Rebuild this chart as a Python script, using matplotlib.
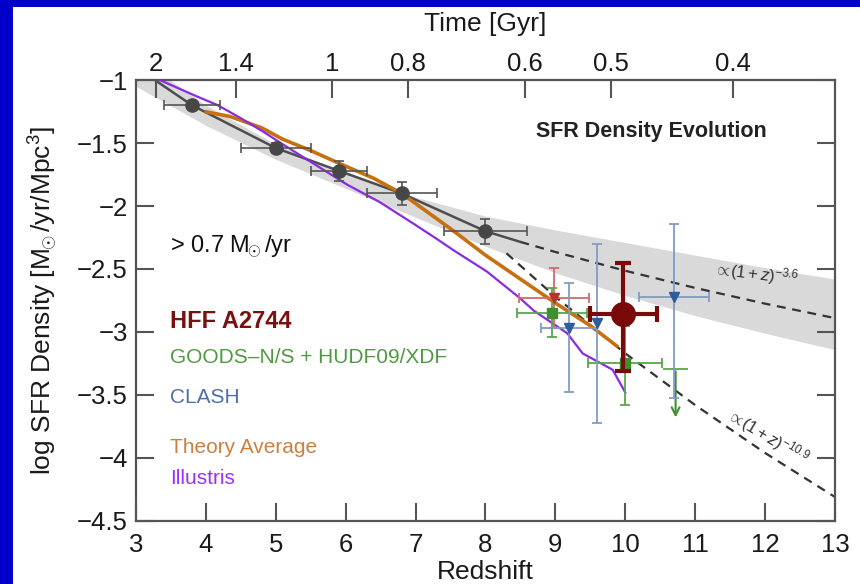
import matplotlib
matplotlib.use("Agg")
import matplotlib.pyplot as plt
from matplotlib.patches import Rectangle
import numpy as np

plt.rcParams['font.family'] = ['Liberation Sans', 'DejaVu Sans']
plt.rcParams['mathtext.fontset'] = 'custom'
plt.rcParams['mathtext.rm'] = 'Liberation Sans'
plt.rcParams['mathtext.it'] = 'Liberation Sans:italic'
plt.rcParams['mathtext.bf'] = 'Liberation Sans:bold'

# ---- data ----
# field data (dark grey circles)
z_pts = [3.8, 5.0, 5.9, 6.8, 8.0]
sfr_pts = [-1.20, -1.54, -1.72, -1.90, -2.20]
zerr_pts = [0.4, 0.5, 0.4, 0.5, 0.6]
sfrerr_pts = [0.03, 0.04, 0.08, 0.09, 0.10]

# solid connecting line (and its end)
z_line = [3.27, 3.8, 5.0, 5.9, 6.8, 8.0, 8.5]
sfr_line = [-1.0, -1.20, -1.54, -1.72, -1.90, -2.20, -2.285]

# grey band (fit uncertainty)
z_band = [3, 4, 5, 6, 7, 8, 9, 10, 11, 12, 13]
band_mid = [-0.93, -1.28, -1.57, -1.80, -2.01, -2.20, -2.36, -2.50, -2.63, -2.75, -2.86]
band_half = [0.12, 0.08, 0.06, 0.06, 0.08, 0.12, 0.17, 0.21, 0.24, 0.26, 0.28]

# dashed power laws
z_slow = [8.5, 9, 10, 11, 12, 13]
sfr_slow = [-2.285, -2.365, -2.514, -2.65, -2.775, -2.89]
z_fast = [8.3, 9, 10, 11, 12, 13]
sfr_fast = [-2.375, -2.72, -3.17, -3.58, -3.96, -4.31]

# Theory average
z_theory = [3.98, 4.35, 4.8, 5.1, 5.5, 5.9, 6.4, 6.8, 7.1, 7.5, 8.0, 8.5, 9.0, 9.5, 9.9]
sfr_theory = [-1.25, -1.29, -1.38, -1.47, -1.56, -1.66, -1.78, -1.90, -2.02,
              -2.18, -2.39, -2.58, -2.77, -2.95, -3.12]

# Illustris
z_ill = [3.34, 3.87, 4.17, 4.49, 4.82, 5.1, 5.53, 6.02, 6.49, 6.97, 7.3, 7.54,
         8.02, 8.49, 8.69, 9.17, 9.39, 9.82, 10.0]
sfr_ill = [-1.0, -1.13, -1.20, -1.30, -1.41, -1.51, -1.66, -1.83, -1.97, -2.14,
           -2.26, -2.35, -2.52, -2.73, -2.83, -3.01, -3.17, -3.30, -3.48]

# CLASH (blue triangles)
z_clash = [9.2, 9.6, 10.7]
sfr_clash = [-2.97, -2.93, -2.72]
zerr_clash = [0.4, 0.0, 0.5]
sfr_clash_lo = [0.51, 0.79, 0.80]
sfr_clash_hi = [0.36, 0.63, 0.58]

# red triangle
z_red = [8.98]
sfr_red = [-2.73]
zerr_red = [0.5]
sfrerr_red = [0.24]

# GOODS-N/S + HUDF09/XDF (green squares)
z_goods = [8.95, 10.0]
sfr_goods = [-2.85, -3.25]
zerr_goods = [0.5, 0.53]
sfr_goods_lo = [0.19, 0.33]
sfr_goods_hi = [0.20, 0.30]
z_goods_lim = 10.72
sfr_goods_lim = -3.29
sfr_goods_arrow = -3.70
zerr_goods_lim = 0.18

# HFF A2744
z_hff = [9.97]
sfr_hff = [-2.86]
zerr_hff = [0.48]
sfr_hff_lo = [0.45]
sfr_hff_hi = [0.41]

time_ticks = [2, 1.4, 1, 0.8, 0.6, 0.5, 0.4]
time_labels = ['2', '1.4', '1', '0.8', '0.6', '0.5', '0.4']

# ---- figure ----
fig = plt.figure(figsize=(8.6, 5.84), dpi=100)
fig.patch.set_facecolor('#0000c8')
fig.patches.append(Rectangle((13 / 860, 0), 847 / 860, 577 / 584, transform=fig.transFigure,
                             facecolor='white', edgecolor='none', zorder=-10))
ax = fig.add_axes([0.1581, 0.1079, 0.8128, 0.7551])

ax.fill_between(z_band, np.array(band_mid) - np.array(band_half),
                np.array(band_mid) + np.array(band_half), color='#d9d9d9', lw=0, zorder=1)
ax.plot(z_slow, sfr_slow, color='#333333', lw=1.6, ls=(0, (4, 3)), zorder=2)
ax.plot(z_fast, sfr_fast, color='#333333', lw=1.6, ls=(0, (4, 3)), zorder=2)
ax.plot(z_line, sfr_line, color='#4d4d4d', lw=1.8, zorder=2)
ax.plot(z_theory, sfr_theory, color='#c8700f', lw=2.6, zorder=3, solid_capstyle='butt')
ax.plot(z_ill, sfr_ill, color='#8a2be2', lw=1.6, zorder=3)

ax.errorbar(z_pts, sfr_pts, xerr=zerr_pts, yerr=sfrerr_pts, fmt='o', color='#474747',
            ms=9.5, elinewidth=1.2, capsize=3.5, capthick=1.2, ecolor='#555555', zorder=4)

ax.errorbar(z_red, sfr_red, xerr=zerr_red, yerr=sfrerr_red, fmt='v', color='#b8342b',
            ms=7, ecolor='#d06a6a', elinewidth=1.3, capsize=3.5, capthick=1.3, zorder=5)
ax.errorbar(z_goods, sfr_goods, xerr=zerr_goods, yerr=[sfr_goods_lo, sfr_goods_hi], fmt='s',
            color='#3f8f2f', ms=7, ecolor='#5aa64a', elinewidth=1.3, capsize=3.5,
            capthick=1.3, zorder=5)
ax.errorbar([z_goods_lim], [sfr_goods_lim], xerr=[[zerr_goods_lim], [zerr_goods_lim]], fmt='none',
            ecolor='#5aa64a', elinewidth=1.3, capsize=0, zorder=5)
ax.annotate('', xy=(z_goods_lim, sfr_goods_arrow), xytext=(z_goods_lim, sfr_goods_lim),
            arrowprops=dict(arrowstyle='->', color='#3f8f2f', lw=1.5, mutation_scale=14), zorder=5)
ax.errorbar(z_clash, sfr_clash, xerr=zerr_clash, yerr=[sfr_clash_lo, sfr_clash_hi], fmt='v',
            color='#2d5d9c', ms=7, ecolor='#7f9cc6', elinewidth=1.3, capsize=3.5,
            capthick=1.3, zorder=5)
ax.errorbar(z_hff, sfr_hff, xerr=zerr_hff, yerr=[sfr_hff_lo, sfr_hff_hi], fmt='o',
            color='#7a0a0a', ms=17, elinewidth=3, capsize=5.5, capthick=3, zorder=6)

# labels inside plot
ax.text(10.38, -1.41, 'SFR Density Evolution', fontsize=15.5, fontweight='bold',
        color='#222222', ha='center', va='center')
ax.text(3.49, -2.325, r'> 0.7 M$_{\!\!\odot}$/yr', fontsize=17, color='#111111', va='center')
ax.text(3.49, -2.92, 'HFF A2744', fontsize=17, fontweight='bold', color='#7a1010', va='center')
ax.text(3.49, -3.206, 'GOODS\u2013N/S + HUDF09/XDF', fontsize=15, color='#4f9a40', va='center')
ax.text(3.49, -3.516, 'CLASH', fontsize=15, color='#4f6fa8', va='center')
ax.text(3.49, -3.913, 'Theory Average', fontsize=15, color='#cc8040', va='center')
ax.text(3.49, -4.159, 'Illustris', fontsize=15, color='#9b30ff', va='center')
ax.text(11.87, -2.54, r'$\propto\!\mathit{(1+z)}^{\mathit{-3.6}}$', fontsize=12,
        color='#333333', ha='center', va='center', rotation=-7)
ax.text(12.04, -3.83, r'$\propto\!\mathit{(1+z)}^{\mathit{-10.9}}$', fontsize=12,
        color='#333333', ha='center', va='center', rotation=-31)

ax.set_xlim(3, 13)
ax.set_ylim(-4.5, -1)
ax.set_xticks(range(3, 14))
ax.set_yticks([-4.5, -4, -3.5, -3, -2.5, -2, -1.5, -1])
ax.set_yticklabels(['\u22124.5', '\u22124', '\u22123.5', '\u22123', '\u22122.5', '\u22122',
                    '\u22121.5', '\u22121'])
ax.tick_params(direction='in', length=13, width=1.5, color='#555555', labelsize=18.5,
               labelcolor='#1a1a1a', pad=6, right=True)
ax.tick_params(axis='x', pad=9)
ax.set_xlabel('Redshift', fontsize=19, color='#1a1a1a', labelpad=2)
ax.set_ylabel(r'log SFR Density [M$_{\!\!\odot}$/yr/Mpc$^3$]', fontsize=19, color='#1a1a1a',
              labelpad=12)
for s in ax.spines.values():
    s.set_color('#555555')
    s.set_linewidth(1.6)

# top axis: cosmic time (matter dominated t ~ (1+z)^-1.5)
top = ax.twiny()
top.set_xlim(3, 13)
top.set_xticks([(17.75 / t) ** (2 / 3) - 1 for t in time_ticks])
top.set_xticklabels(time_labels)
top.tick_params(direction='in', length=13, width=1.5, color='#555555', labelsize=18.5,
                labelcolor='#1a1a1a', pad=3)
top.set_xlabel('Time [Gyr]', fontsize=19, color='#1a1a1a', labelpad=15)
for s in top.spines.values():
    s.set_visible(False)

fig.savefig('out.png', dpi=100, facecolor=fig.get_facecolor())
